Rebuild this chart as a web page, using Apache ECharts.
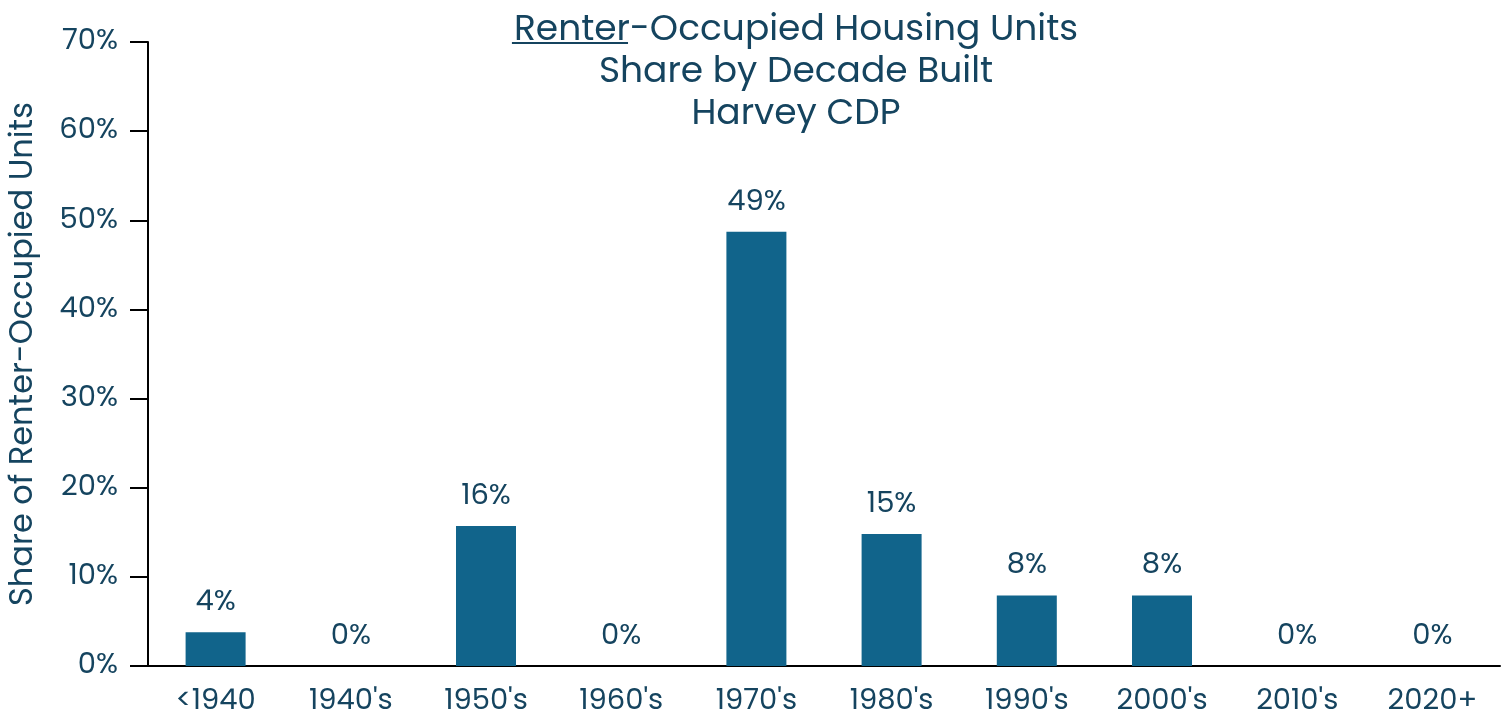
<!DOCTYPE html>
<html>
<head>
<meta charset="utf-8">
<script src="https://cdn.jsdelivr.net/npm/echarts@6/dist/echarts.min.js"></script>
<style>
	html, body { margin: 0; padding: 0; background: #fff; }
	#chart { width: 1510px; height: 715px; }
</style>
</head>
<body>
<div id="chart"></div>
<script>
var categories = ['<1940', "1940's", "1950's", "1960's", "1970's", "1980's", "1990's", "2000's", "2010's", '2020+'];
var shares = [3.8, 0, 15.7, 0, 48.7, 14.8, 7.9, 7.9, 0, 0];
var yTicks = [0, 10, 20, 30, 40, 50, 60, 70];

var textColor = '#15445f';
var barColor = '#11648b';
var fontFamily = 'Poppins, "Noto Sans", sans-serif';

var chartDom = document.getElementById('chart');
var myChart = echarts.init(chartDom);

// underline under "Renter" in the first title line
var titleSize = 36;
var titleCenter = 791;
var line1 = 'Renter-Occupied Housing Units';
var ctx = document.createElement('canvas').getContext('2d');
ctx.font = titleSize + 'px ' + fontFamily;
var fullW = ctx.measureText(line1).width;
var renterW = ctx.measureText('Renter').width;
var ulX = titleCenter - fullW / 2 + 5;

var option = {
	animation: false,
	title: {
		text: line1 + '\nShare by Decade Built\nHarvey CDP',
		left: titleCenter,
		textAlign: 'center',
		top: 5,
		textStyle: {
			color: textColor,
			fontSize: titleSize,
			fontWeight: 'normal',
			fontFamily: fontFamily,
			lineHeight: 42
		}
	},
	graphic: [
		{
			type: 'line',
			shape: { x1: ulX - 2, y1: 43, x2: ulX + renterW - 2, y2: 43 },
			style: { stroke: textColor, lineWidth: 2 }
		}
	],
	grid: {
		left: 148,
		right: 10,
		top: 42,
		bottom: 49,
		containLabel: false,
		outerBoundsMode: 'none'
	},
	xAxis: {
		type: 'category',
		data: categories,
		axisLine: { lineStyle: { color: '#000', width: 2 } },
		axisTick: { alignWithLabel: true, length: 18, lineStyle: { color: '#000', width: 2 } },
		axisLabel: { color: textColor, fontSize: 29, fontFamily: fontFamily, margin: 21 }
	},
	yAxis: {
		type: 'value',
		min: yTicks[0],
		max: yTicks[yTicks.length - 1],
		interval: 10,
		name: 'Share of Renter-Occupied Units',
		nameLocation: 'middle',
		nameGap: 108,
		nameTextStyle: { color: textColor, fontSize: 32, fontFamily: fontFamily },
		splitLine: { show: false },
		axisLine: { show: true, lineStyle: { color: '#000', width: 2 } },
		axisTick: { show: true, length: 18, lineStyle: { color: '#000', width: 2 } },
		axisLabel: {
			color: textColor,
			fontSize: 29,
			fontFamily: fontFamily,
			margin: 30,
			formatter: function (v) { return v + '%'; }
		}
	},
	series: [
		{
			type: 'bar',
			data: shares,
			barWidth: 60,
			itemStyle: { color: barColor },
			label: {
				show: true,
				position: 'top',
				distance: 15,
				color: textColor,
				fontSize: 29,
				fontFamily: fontFamily,
				formatter: function (p) { return Math.round(p.value) + '%'; }
			}
		}
	]
};
option && myChart.setOption(option);
</script>
</body>
</html>
